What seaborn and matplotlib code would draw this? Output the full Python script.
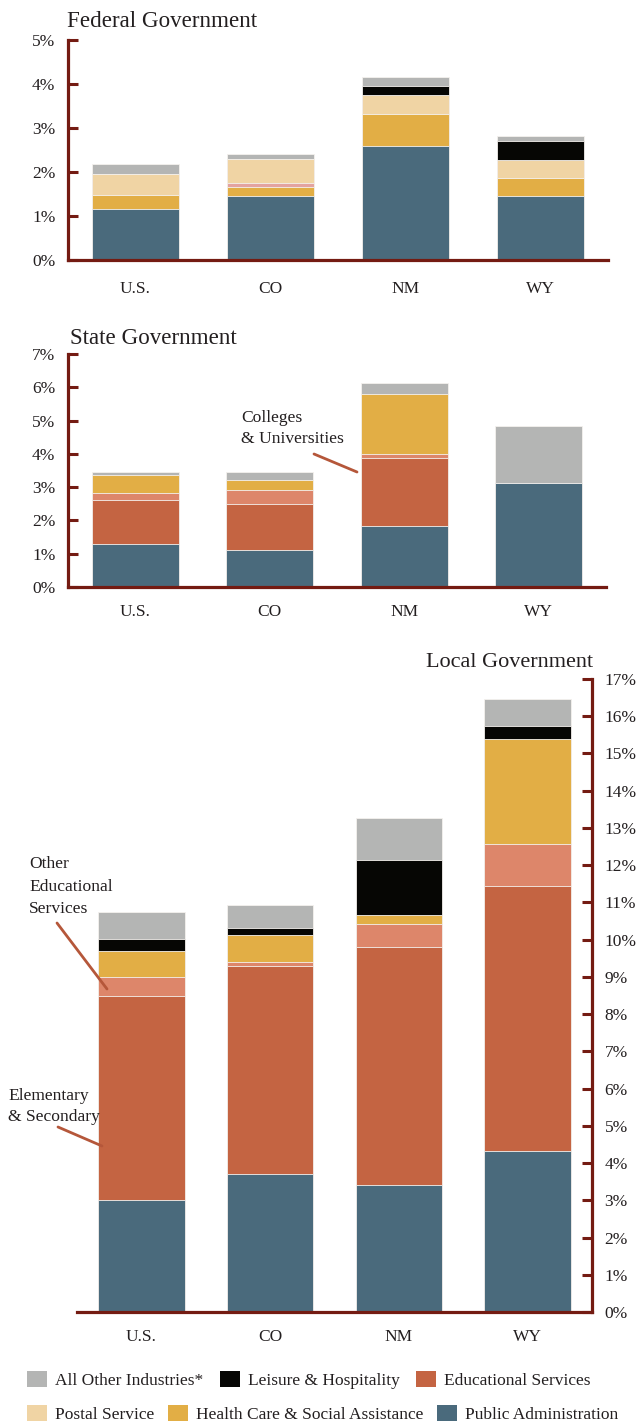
import numpy as np
import matplotlib
matplotlib.use("Agg")
import matplotlib.pyplot as plt
from matplotlib.patches import Patch
from matplotlib.lines import Line2D
import seaborn as sns

# ---- data (share of total employment, %) ----
regions = ["U.S.", "CO", "NM", "WY"]

# Federal government
fed_admin   = [1.17, 1.45, 2.59, 1.45]
fed_health  = [0.30, 0.21, 0.73, 0.41]
fed_edu     = [0.00, 0.09, 0.00, 0.00]
fed_postal  = [0.49, 0.55, 0.43, 0.41]
fed_leisure = [0.00, 0.00, 0.20, 0.43]
fed_other   = [0.23, 0.11, 0.21, 0.12]

# State government
st_admin     = [1.30, 1.11, 1.83, 3.12]
st_colleges  = [1.31, 1.38, 2.04, 0.00]
st_other_edu = [0.21, 0.42, 0.12, 0.00]
st_health    = [0.54, 0.30, 1.81, 0.00]
st_other     = [0.09, 0.24, 0.33, 1.71]

# Local government
loc_admin      = [3.01, 3.71, 3.41, 4.33]
loc_elementary = [5.48, 5.59, 6.40, 7.12]
loc_other_edu  = [0.51, 0.11, 0.62, 1.13]
loc_health     = [0.70, 0.72, 0.22, 2.82]
loc_leisure    = [0.33, 0.19, 1.50, 0.33]
loc_other      = [0.72, 0.62, 1.13, 0.72]

fed_ticks = [0, 1, 2, 3, 4, 5]
st_ticks = [0, 1, 2, 3, 4, 5, 6, 7]
loc_ticks = list(range(0, 18))

legend_row1 = ["All Other Industries*", "Leisure & Hospitality", "Educational Services"]
legend_row2 = ["Postal Service", "Health Care & Social Assistance", "Public Administration"]

# ---- palette ----
C_ADMIN = "#4a6a7c"
C_EDU = "#c46442"
C_OTHER_EDU = "#dd866a"
C_FED_EDU = "#e3a3a0"
C_HEALTH = "#e2ae45"
C_POSTAL = "#f0d4a4"
C_LEISURE = "#060604"
C_OTHER = "#b4b5b4"
C_AXIS = "#741b12"
C_TEXT = "#231f20"
C_POINTER = "#b5573a"

sns.set_theme(style="white")
plt.rcParams["font.family"] = ["Liberation Serif", "DejaVu Serif"]
plt.rcParams["text.color"] = C_TEXT

W, H = 638, 1423
fig = plt.figure(figsize=(W / 100, H / 100), dpi=100)
fig.patch.set_facecolor("white")


def px(x, y):
    return x / W, 1 - y / H


def axes_px(x0, y0, x1, y1):
    return fig.add_axes([x0 / W, 1 - y1 / H, (x1 - x0) / W, (y1 - y0) / H])


def stacked(ax, layers, width):
    vals = np.array([v for v, _ in layers], dtype=float)
    cum = np.cumsum(vals, axis=0)
    for i in reversed(range(len(layers))):
        sns.barplot(x=regions, y=cum[i], color=layers[i][1], width=width,
                    saturation=1, edgecolor="#f4f1ee", linewidth=0.6, ax=ax)


def style_axis(ax, ticks, side="left", xpad=13):
    ax.set_facecolor("white")
    ax.set_ylim(ticks[0], ticks[-1])
    ax.set_xlim(-0.5, 3.5)
    ax.set_yticks(ticks)
    ax.set_yticklabels([f"{t}%" for t in ticks])
    for s in ax.spines.values():
        s.set_visible(False)
    ax.spines["bottom"].set_visible(True)
    ax.spines[side].set_visible(True)
    for s in ("bottom", side):
        ax.spines[s].set_color(C_AXIS)
        ax.spines[s].set_linewidth(2.3)
        ax.spines[s].set_zorder(5)
    if side == "right":
        ax.yaxis.tick_right()
        ax.yaxis.set_label_position("right")
    ax.tick_params(axis="y", direction="in", length=7, width=2.2, color=C_AXIS,
                   labelsize=12.5, labelcolor=C_TEXT, pad=9,
                   left=(side == "left"), right=(side == "right"),
                   labelleft=(side == "left"), labelright=(side == "right"))
    ax.tick_params(axis="x", length=0, labelsize=12.5, labelcolor=C_TEXT, pad=xpad)
    ax.set_xlabel("")
    ax.set_ylabel("")
    ax.grid(False)


# Federal government
ax_fed = axes_px(68, 40, 608, 260)
stacked(ax_fed, [(fed_admin, C_ADMIN), (fed_health, C_HEALTH), (fed_edu, C_FED_EDU),
                 (fed_postal, C_POSTAL), (fed_leisure, C_LEISURE), (fed_other, C_OTHER)], 0.65)
style_axis(ax_fed, fed_ticks, "left", xpad=15)

# State government
ax_st = axes_px(68, 354, 606, 587)
stacked(ax_st, [(st_admin, C_ADMIN), (st_colleges, C_EDU), (st_other_edu, C_OTHER_EDU),
                (st_health, C_HEALTH), (st_other, C_OTHER)], 0.65)
style_axis(ax_st, st_ticks, "left", xpad=12.5)

# Local government
ax_loc = axes_px(77, 679, 592, 1312)
stacked(ax_loc, [(loc_admin, C_ADMIN), (loc_elementary, C_EDU), (loc_other_edu, C_OTHER_EDU),
                 (loc_health, C_HEALTH), (loc_leisure, C_LEISURE), (loc_other, C_OTHER)], 0.67)
style_axis(ax_loc, loc_ticks, "right", xpad=12.5)

# Panel titles
fig.text(*px(67, 27), "Federal Government", fontsize=16.6, ha="left", va="baseline")
fig.text(*px(70, 344), "State Government", fontsize=16.6, ha="left", va="baseline")
fig.text(*px(593, 667), "Local Government", fontsize=16, ha="right", va="baseline")

# Callouts
def callout(lines, x, y0, step, p0, p1):
    for i, t in enumerate(lines):
        fig.text(*px(x, y0 + i * step), t, fontsize=12.6, ha="left", va="baseline")
    fig.add_artist(Line2D([p0[0] / W, p1[0] / W], [1 - p0[1] / H, 1 - p1[1] / H],
                          transform=fig.transFigure, color=C_POINTER, lw=2.0))

callout(["Colleges", "& Universities"], 241, 422, 21, (314, 454), (357, 472))
callout(["Other", "Educational", "Services"], 29, 868, 22.5, (57, 923), (107, 989))
callout(["Elementary", "& Secondary"], 8, 1100, 21, (58, 1127), (102, 1146))

# Legend (two rows)
row1_colors = [C_OTHER, C_LEISURE, C_EDU]
row2_colors = [C_POSTAL, C_HEALTH, C_ADMIN]
for labels, colors, ytop, cs in ((legend_row1, row1_colors, 1371, 0.95),
                                 (legend_row2, row2_colors, 1405, 0.8)):
    handles = [Patch(facecolor=c, edgecolor="none") for c in colors]
    fig.legend(handles, labels, loc="upper left", bbox_to_anchor=px(27, ytop),
               ncol=3, frameon=False, fontsize=12.5, handlelength=1.15, handleheight=1.0,
               handletextpad=0.46, columnspacing=cs, borderaxespad=0, borderpad=0)

fig.savefig("out.png", dpi=100, facecolor="white")
